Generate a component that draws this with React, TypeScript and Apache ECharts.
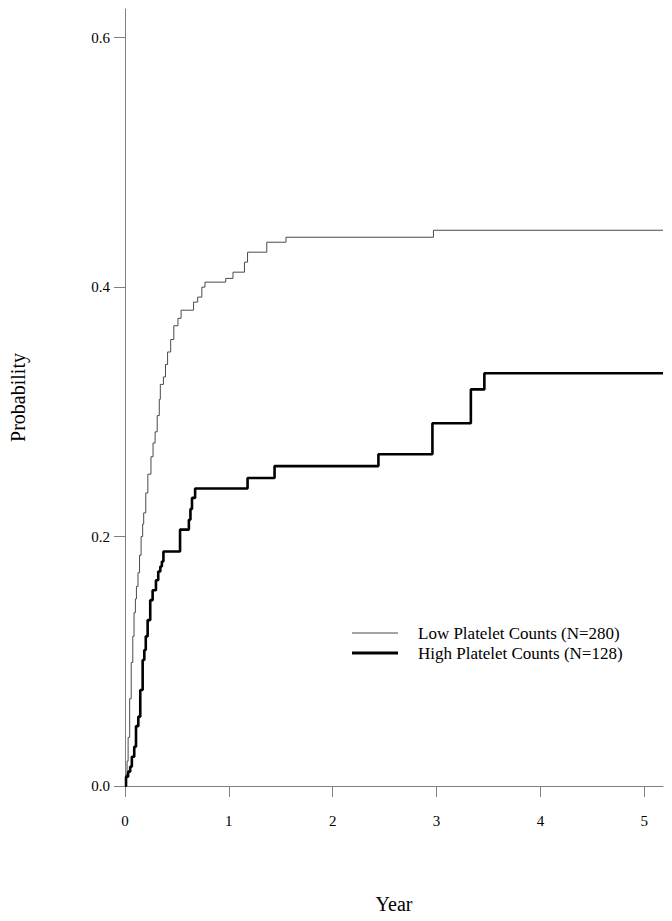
import React, { useEffect, useRef } from "react";
import * as echarts from "echarts";

const lowLabel = "Low Platelet Counts (N=280)";
const highLabel = "High Platelet Counts (N=128)";

const lowTime = [0, 0.01, 0.02, 0.03, 0.045, 0.06, 0.075, 0.087, 0.1, 0.11, 0.125, 0.14, 0.155, 0.17, 0.18, 0.2, 0.22, 0.25, 0.27, 0.29, 0.31, 0.33, 0.34, 0.37, 0.39, 0.41, 0.44, 0.47, 0.51, 0.54, 0.66, 0.7, 0.74, 0.77, 0.97, 1.04, 1.15, 1.18, 1.365, 1.55, 2.97, 5.18];
const lowProb = [0, 0.009, 0.02, 0.039, 0.07, 0.099, 0.12, 0.139, 0.15, 0.16, 0.171, 0.185, 0.2, 0.21, 0.219, 0.235, 0.25, 0.264, 0.275, 0.284, 0.297, 0.31, 0.322, 0.328, 0.338, 0.348, 0.358, 0.369, 0.375, 0.3815, 0.388, 0.392, 0.4, 0.404, 0.407, 0.412, 0.42, 0.428, 0.436, 0.44, 0.4456, 0.4456];

const highTime = [0, 0.01, 0.03, 0.05, 0.066, 0.089, 0.106, 0.128, 0.147, 0.17, 0.186, 0.2, 0.218, 0.243, 0.266, 0.298, 0.32, 0.34, 0.355, 0.37, 0.53, 0.615, 0.63, 0.645, 0.675, 1.18, 1.44, 2.44, 2.96, 3.33, 3.46, 5.18];
const highProb = [0, 0.0075, 0.0115, 0.0155, 0.0235, 0.0315, 0.048, 0.0556, 0.077, 0.101, 0.109, 0.12, 0.133, 0.149, 0.157, 0.165, 0.172, 0.176, 0.18, 0.188, 0.2056, 0.2135, 0.222, 0.231, 0.2385, 0.247, 0.2565, 0.266, 0.2908, 0.318, 0.331, 0.331];

const xTicks = [0, 1, 2, 3, 4, 5];
const yTicks = [0, 0.2, 0.4, 0.6];

const FONT = "'Liberation Serif', 'Times New Roman', serif";
const AXIS_GREY = "#808080";
const LOW_COLOR = "#4a4a4a";
const HIGH_COLOR = "#000";

export default function App() {
  const ref = useRef<HTMLDivElement>(null);

  useEffect(() => {
    if (!ref.current) return;
    const chart = echarts.init(ref.current, null, { renderer: "svg" });
    const lowData = lowTime.map((t, i) => [t, lowProb[i]]);
    const highData = highTime.map((t, i) => [t, highProb[i]]);

    const legendText = {
      fontFamily: FONT,
      fontSize: 17,
      lineHeight: 20,
      color: "#000",
      padding: [0, 0, 0, 15],
    };

    chart.setOption({
      animation: false,
      textStyle: { fontFamily: FONT },
      grid: { left: 124, right: 9, top: 9, bottom: 135, containLabel: false },
      legend: [
        {
          left: 347,
          top: 618,
          itemWidth: 46,
          itemHeight: 1,
          icon: "rect",
          data: [lowLabel],
          textStyle: legendText,
        },
        {
          left: 347,
          top: 638,
          itemWidth: 46,
          itemHeight: 3,
          icon: "rect",
          data: [highLabel],
          textStyle: legendText,
        },
      ],
      xAxis: {
        type: "value",
        min: 0,
        max: 5.18,
        interval: 1,
        name: "Year",
        nameLocation: "middle",
        nameGap: 108,
        nameTextStyle: { fontFamily: FONT, fontSize: 20, color: "#000" },
        axisLine: { show: true, lineStyle: { color: AXIS_GREY, width: 1 } },
        axisTick: {
          show: true,
          length: 11,
          customValues: xTicks,
          lineStyle: { color: AXIS_GREY, width: 1 },
        },
        axisLabel: {
          customValues: xTicks,
          margin: 27,
          fontFamily: FONT,
          fontSize: 15,
          color: "#000",
          formatter: (v: number) => String(v),
        },
        splitLine: { show: false },
      },
      yAxis: {
        type: "value",
        min: 0,
        max: 0.623,
        interval: 0.2,
        name: "Probability",
        nameLocation: "middle",
        nameGap: 97,
        nameTextStyle: { fontFamily: FONT, fontSize: 20, color: "#000" },
        axisLine: { show: true, lineStyle: { color: AXIS_GREY, width: 1 } },
        axisTick: {
          show: true,
          length: 11,
          customValues: yTicks,
          lineStyle: { color: AXIS_GREY, width: 1 },
        },
        axisLabel: {
          customValues: yTicks,
          margin: 15,
          fontFamily: FONT,
          fontSize: 15,
          color: "#000",
          formatter: (v: number) => v.toFixed(1),
        },
        splitLine: { show: false },
      },
      series: [
        {
          name: lowLabel,
          type: "line",
          step: "end",
          data: lowData,
          symbol: "none",
          lineStyle: { color: LOW_COLOR, width: 1 },
          itemStyle: { color: LOW_COLOR },
        },
        {
          name: highLabel,
          type: "line",
          step: "end",
          data: highData,
          symbol: "none",
          lineStyle: { color: HIGH_COLOR, width: 2.6 },
          itemStyle: { color: HIGH_COLOR },
        },
      ],
    });

    return () => chart.dispose();
  }, []);

  return (
    <div
      ref={ref}
      style={{ position: "absolute", left: 0, top: 0, width: 672, height: 921 }}
    />
  );
}
